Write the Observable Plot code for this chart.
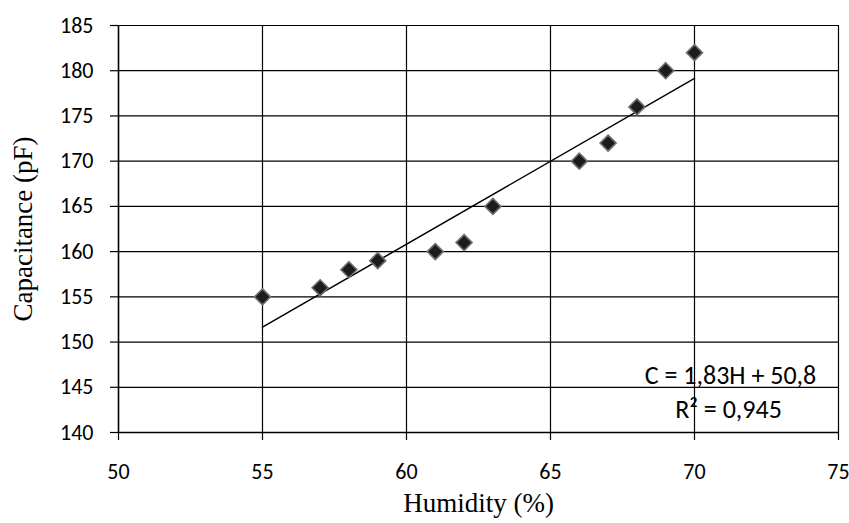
<!DOCTYPE html>
<html>
<head>
<meta charset="utf-8">
<script src="https://cdn.jsdelivr.net/npm/d3@7"></script>
<script src="https://cdn.jsdelivr.net/npm/@observablehq/plot@0.6"></script>
<style>
  html, body { margin: 0; padding: 0; background: #fff; }
  #chart svg { display: block; }
</style>
</head>
<body>
<div id="chart"></div>
<script>
// Data
const humidity    = [55, 57, 58, 59, 61, 62, 63, 66, 67, 68, 69, 70];
const capacitance = [155, 156, 158, 159, 160, 161, 165, 170, 172, 176, 180, 182];
const xTicks = [50, 55, 60, 65, 70, 75];
const yTicks = [140, 145, 150, 155, 160, 165, 170, 175, 180, 185];
const xTitle = "Humidity (%)";
const yTitle = "Capacitance (pF)";
const equationLines = ["C = 1,83H + 50,8", "R\u00B2 = 0,945"];

const data = humidity.map((h, i) => ({h, c: capacitance[i]}));
const sans = "Calibri, Carlito, Lato, sans-serif";
const serif = "'Times New Roman', 'Liberation Serif', serif";

const chart = Plot.plot({
  width: 849,
  height: 523,
  marginLeft: 118,
  marginRight: 11,
  marginTop: 25,
  marginBottom: 91,
  style: {fontFamily: sans, fontSize: "22px", color: "#000", background: "#fff"},
  x: {domain: [50, 75]},
  y: {domain: [140, 185]},
  marks: [
    Plot.gridX(xTicks.slice(1), {stroke: "#000", strokeOpacity: 1, strokeWidth: 1.2}),
    Plot.gridY(yTicks.slice(1), {stroke: "#000", strokeOpacity: 1, strokeWidth: 1.2}),
    Plot.axisX({ticks: xTicks, tickSize: 8, tickPadding: 23, label: null, fontSize: 22, stroke: "#000", strokeWidth: 1.2}),
    Plot.axisY({ticks: yTicks, tickSize: 8, tickPadding: 17, label: null, fontSize: 22, stroke: "#000", strokeWidth: 1.2}),
    Plot.ruleX([50], {stroke: "#000", strokeWidth: 1.6}),
    Plot.ruleY([140], {stroke: "#000", strokeWidth: 1.6}),
    Plot.linearRegressionY(data, {x: "h", y: "c", ci: 0, stroke: "#000", strokeWidth: 1.5}),
    Plot.dot(data, {x: "h", y: "c", symbol: "diamond2", r: 7.2, fill: "#1c1c1c", stroke: "#6e6e6e", strokeWidth: 1.6}),
    Plot.text([equationLines[0]], {frameAnchor: "bottom-right", dx: -108, dy: -49, textAnchor: "middle", lineAnchor: "bottom", fontSize: 26, fontFamily: sans, fill: "#000"}),
    Plot.text([equationLines[1]], {frameAnchor: "bottom-right", dx: -110, dy: -15, textAnchor: "middle", lineAnchor: "bottom", fontSize: 26, fontFamily: sans, fill: "#000"}),
    Plot.text([xTitle], {frameAnchor: "bottom", dy: 71, textAnchor: "middle", lineAnchor: "middle", fontSize: 27, fontFamily: serif, fill: "#000"}),
    Plot.text([yTitle], {frameAnchor: "left", dx: -95, rotate: -90, textAnchor: "middle", lineAnchor: "middle", fontSize: 27, fontFamily: serif, fill: "#000"})
  ]
});
document.getElementById("chart").append(chart);
</script>
</body>
</html>
